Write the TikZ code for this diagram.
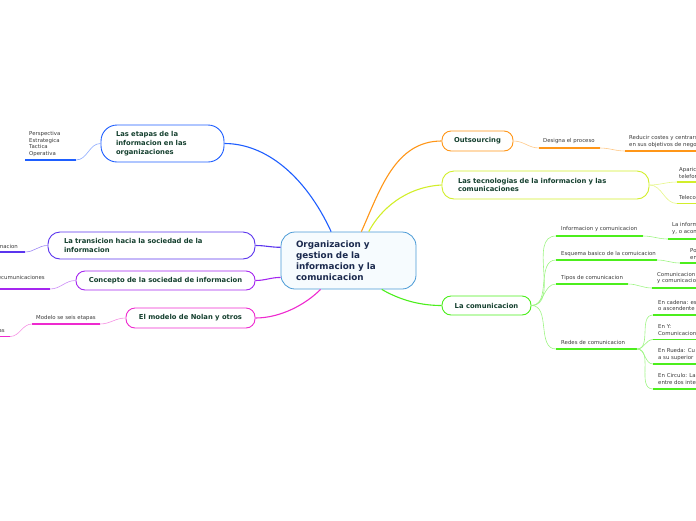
\documentclass[tikz,border=0pt]{standalone}
\usepackage{fontspec}
\setmainfont{DejaVu Sans}
\definecolor{ctxt}{HTML}{1B2A4E}
\definecolor{ntxt}{HTML}{15402F}
\definecolor{ltxt}{HTML}{3A3A3A}
\definecolor{cbord}{HTML}{4A9AD6}
\definecolor{cfill}{HTML}{F6FBFE}
\definecolor{cblue}{HTML}{1E5EFF}
\definecolor{lblue}{HTML}{8AA8FF}
\definecolor{cindi}{HTML}{5B35EE}
\definecolor{lindi}{HTML}{9C86F5}
\definecolor{cpurp}{HTML}{A526F0}
\definecolor{lpurp}{HTML}{CC8CF7}
\definecolor{cmag}{HTML}{EE2ACF}
\definecolor{lmag}{HTML}{F58FE3}
\definecolor{corg}{HTML}{FF9618}
\definecolor{lorg}{HTML}{FFC886}
\definecolor{cyel}{HTML}{D2EE2A}
\definecolor{lyel}{HTML}{E6F68A}
\definecolor{cgrn}{HTML}{4CEE1C}
\definecolor{lgrn}{HTML}{9FF585}
\tikzset{
  mainnode/.style={draw, fill=white, line width=0.9pt, inner sep=0pt,
    font=\fontsize{6.8}{8.8}\selectfont\bfseries, text=ntxt},
  lbl/.style={inner sep=0pt, font=\fontsize{5.4}{6.7}\selectfont, text=ltxt, align=left},
  ul/.style={line width=1.8pt},
  br/.style={line width=0.6pt},
  trunk/.style={line width=1.1pt},
}
\begin{document}
\begin{tikzpicture}[x=1pt,y=-1pt]
\useasboundingbox (0,0) rectangle (696,520);
\clip (0,0) rectangle (696,520);

% central node
\node[draw=cbord, fill=cfill, line width=0.8pt, rounded corners=14pt, inner sep=0pt,
  minimum width=135pt, minimum height=57pt, text width=105pt, align=left,
  font=\fontsize{8.8}{11}\selectfont\bfseries, text=ctxt] (c) at (348.5,260.5)
  {Organizacion y\\gestion de la\\informacion y la\\comunicacion};

% left main nodes
\node[mainnode, draw=cblue, rounded corners=16pt, minimum width=123pt, minimum height=37pt,
  text width=93pt, align=left] (e1) at (162.5,143.5)
  {Las etapas de la\\informacion en las\\organizaciones};
\node[mainnode, draw=cindi, rounded corners=12pt, minimum width=207pt, minimum height=27pt,
  text width=175pt, align=left] (e2) at (151.5,245.5)
  {La transicion hacia la sociedad de la\\informacion};
\node[mainnode, draw=cpurp, rounded corners=9pt, minimum width=179pt, minimum height=19pt,
  align=center] (e3) at (165.5,280.5) {Concepto de la sociedad de informacion};
\node[mainnode, draw=cmag, rounded corners=9pt, minimum width=129pt, minimum height=20pt,
  align=center] (e4) at (190.5,318) {El modelo de Nolan y otros};

% right main nodes
\node[mainnode, draw=corg, rounded corners=9pt, minimum width=71pt, minimum height=20pt,
  align=center] (r1) at (477.5,141) {Outsourcing};
\node[mainnode, draw=cyel, rounded corners=12pt, minimum width=207pt, minimum height=28pt,
  text width=175pt, align=left] (r2) at (545.5,185)
  {Las tecnologias de la informacion y las\\comunicaciones};
\node[mainnode, draw=cgrn, rounded corners=9pt, minimum width=89pt, minimum height=19pt,
  align=center] (r3) at (486.5,305.5) {La comunicacion};

% trunk connectors
\draw[trunk, cblue] (c.121) .. controls (305,175) and (265,143.5) .. (e1.east);
\draw[trunk, cindi] (c.169) to[out=180,in=0] (e2.east);
\draw[trunk, cpurp] (c.-166) to[out=180,in=0] (e3.east);
\draw[trunk, cmag] (c.-134) .. controls (305,305) and (280,318) .. (e4.east);
\draw[trunk, corg] (c.66) .. controls (380,190) and (395,141) .. (r1.west);
\draw[trunk, cyel] (c.55) .. controls (380,210) and (405,187) .. (r2.west);
\draw[trunk, cgrn] (c.-41) .. controls (400,300) and (420,305.5) .. (r3.west);

% ---------- left sub topics ----------
% etapas
\coordinate (e1s) at (76,160); \coordinate (e1t) at (25,160);
\node[lbl, anchor=west] (e1l) at (29,144) {Perspectiva\\Estrategica\\Tactica\\Operativa};
\draw[br, lblue] (e1.west) to[out=180,in=0] (e1s);
\draw[ul, cblue] (e1s) -- (e1t);

% transicion
\coordinate (e2s) at (25,252); \coordinate (e2t) at (-5,252);
\node[lbl, anchor=east] (e2l) at (18,246) {informacion};
\draw[br, lindi] (e2.west) to[out=180,in=0] (e2s);
\draw[ul, cindi] (e2s) -- (e2t);

% concepto
\coordinate (e3s) at (50,289); \coordinate (e3t) at (-5,289);
\node[lbl, anchor=east] (e3l) at (45,277) {telecumunicaciones};
\draw[br, lpurp] (e3.west) to[out=180,in=0] (e3s);
\draw[ul, cpurp] (e3s) -- (e3t);

% nolan
\coordinate (e4s) at (100,324); \coordinate (e4t) at (32,324);
\node[lbl, anchor=west] (e4l) at (36,318) {Modelo se seis etapas};
\draw[br, lmag] (e4.west) to[out=180,in=0] (e4s);
\draw[ul, cmag] (e4s) -- (e4t);
\coordinate (e4bs) at (10,336.5); \coordinate (e4bt) at (-5,336.5);
\node[lbl, anchor=east] (e4bl) at (5,331) {etapas};
\draw[br, lmag] (e4t) to[out=180,in=0] (e4bs);
\draw[ul, cmag] (e4bs) -- (e4bt);

% ---------- right sub topics ----------
% outsourcing
\coordinate (r1s) at (539,148); \coordinate (r1t) at (600,148);
\node[lbl, anchor=west] (r1l) at (543,141) {Designa el proceso};
\draw[br, lorg] (r1.east) to[out=0,in=180] (r1s);
\draw[ul, corg] (r1s) -- (r1t);
\coordinate (r1bs) at (625,151); \coordinate (r1bt) at (705,151);
\node[lbl, anchor=west] (r1bl) at (629,141.3) {Reducir costes y centrarse\\en sus objetivos de negocio};
\draw[br, lorg] (r1t) to[out=0,in=180] (r1bs);
\draw[ul, corg] (r1bs) -- (r1bt);

% tecnologias
\coordinate (r2as) at (677,182); \coordinate (r2at) at (705,182);
\coordinate (r2bs) at (677,203.5); \coordinate (r2bt) at (705,203.5);
\node[lbl, anchor=west] (r2al) at (679,173) {Aparicion\\telefonia};
\node[lbl, anchor=west] (r2bl) at (679,197) {Telecomunicaciones};
\draw[br, lyel] (r2.east) to[out=0,in=180] (r2as);
\draw[br, lyel] (r2.east) to[out=0,in=180] (r2bs);
\draw[ul, cyel] (r2as) -- (r2at);
\draw[ul, cyel] (r2bs) -- (r2bt);

% la comunicacion
\coordinate (s1s) at (556,236); \coordinate (s1t) at (643,236);
\coordinate (s2s) at (556,260); \coordinate (s2t) at (657,260);
\coordinate (s3s) at (556,284); \coordinate (s3t) at (628,284);
\coordinate (s4s) at (556,349); \coordinate (s4t) at (637,349);
\node[lbl, anchor=west] (s1l) at (561,229) {Informacion y comunicacion};
\node[lbl, anchor=west] (s2l) at (561,254) {Esquema basico de la comuicacion};
\node[lbl, anchor=west] (s3l) at (561,278) {Tipos de comunicacion};
\node[lbl, anchor=west] (s4l) at (561,342) {Redes de comunicacion};
\foreach \s in {s1s,s2s,s3s,s4s} \draw[br, lgrn] (r3.east) to[out=0,in=180] (\s);
\draw[ul, cgrn] (s1s) -- (s1t);
\draw[ul, cgrn] (s2s) -- (s2t);
\draw[ul, cgrn] (s3s) -- (s3t);
\draw[ul, cgrn] (s4s) -- (s4t);

% third level
\coordinate (t1s) at (668,239); \coordinate (t1t) at (705,239);
\coordinate (t2s) at (680,263); \coordinate (t2t) at (705,263);
\coordinate (t3s) at (652,288); \coordinate (t3t) at (705,288);
\node[lbl, anchor=west] (t1l) at (672,228.5) {La informacion\\y, o acontecimientos};
\node[lbl, anchor=west] (t2l) at (690,254) {Por\\en};
\node[lbl, anchor=west] (t3l) at (657,278) {Comunicacion interna\\y comunicacion externa};
\draw[br, lgrn] (s1t) to[out=0,in=180] (t1s);
\draw[br, lgrn] (s2t) to[out=0,in=180] (t2s);
\draw[br, lgrn] (s3t) to[out=0,in=180] (t3s);
\draw[ul, cgrn] (t1s) -- (t1t);
\draw[ul, cgrn] (t2s) -- (t2t);
\draw[ul, cgrn] (t3s) -- (t3t);

% redes
\coordinate (n1s) at (653,315); \coordinate (n1t) at (705,315);
\coordinate (n2s) at (653,339.5); \coordinate (n2t) at (705,339.5);
\coordinate (n3s) at (653,364); \coordinate (n3t) at (705,364);
\coordinate (n4s) at (653,389); \coordinate (n4t) at (705,389);
\node[lbl, anchor=west] (n1l) at (658,305.5) {En cadena: es\\o ascendente};
\node[lbl, anchor=west] (n2l) at (658,330) {En Y:\\Comunicacion};
\node[lbl, anchor=west] (n3l) at (658,354.5) {En Rueda: Cu\\a su superior};
\node[lbl, anchor=west] (n4l) at (658,379) {En Circulo: La\\entre dos inte};
\foreach \s in {n1s,n2s,n3s,n4s} \draw[br, lgrn] (s4t) to[out=0,in=180] (\s);
\draw[ul, cgrn] (n1s) -- (n1t);
\draw[ul, cgrn] (n2s) -- (n2t);
\draw[ul, cgrn] (n3s) -- (n3t);
\draw[ul, cgrn] (n4s) -- (n4t);
\end{tikzpicture}
\end{document}
